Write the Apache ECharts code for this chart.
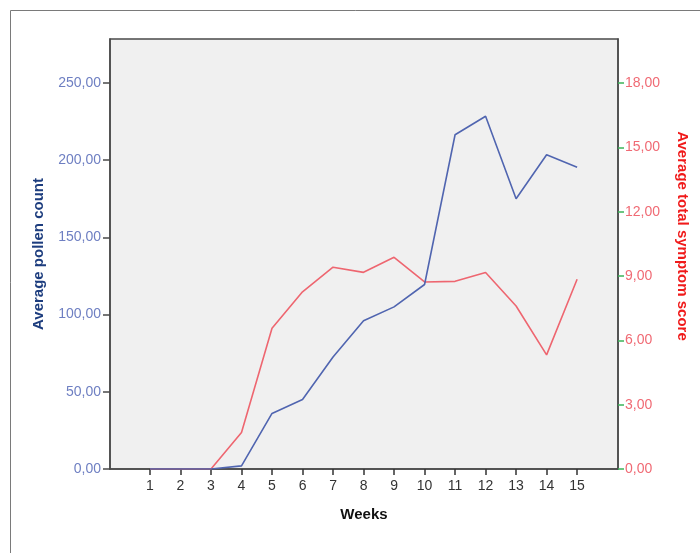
<!DOCTYPE html>
<html>
<head>
<meta charset="utf-8">
<script src="https://cdn.jsdelivr.net/npm/echarts@6/dist/echarts.min.js"></script>
<style>
  html, body { margin: 0; padding: 0; background: #ffffff; }
  #chart { width: 700px; height: 553px; }
</style>
</head>
<body>
<div id="chart"></div>
<script>
// Weekly averages over the pollen season
const weeks = [1, 2, 3, 4, 5, 6, 7, 8, 9, 10, 11, 12, 13, 14, 15];
const pollenCount = [0, 0, 0, 2, 36, 45, 72.5, 96, 105, 119.5, 216.5, 228.5, 175, 203.5, 195.5];
const symptomScore = [0, 0, 0, 1.7, 6.56, 8.26, 9.41, 9.17, 9.87, 8.72, 8.75, 9.16, 7.6, 5.32, 8.85];

// Tick labels for both value axes
const pollenTicks = [0, 50, 100, 150, 200, 250];
const scoreTicks = [0, 3, 6, 9, 12, 15, 18];

const FONT = '"Liberation Sans", Arial, sans-serif';
const comma2 = v => v.toFixed(2).replace('.', ',');

const chart = echarts.init(document.getElementById('chart'), null, { renderer: 'canvas' });

chart.setOption({
  animation: false,
  backgroundColor: '#ffffff',
  graphic: [{
    type: 'rect',
    shape: { x: 10.5, y: 10.5, width: 720, height: 580 },
    style: { fill: 'none', stroke: '#7a7a7a', lineWidth: 1 },
    silent: true
  }],
  grid: {
    left: 110, top: 39, right: 82, bottom: 84,
    show: true, backgroundColor: '#f0f0f0', borderColor: '#4a4a4a', borderWidth: 1.5
  },
  xAxis: {
    type: 'value',
    min: -0.31, max: 16.34,
    name: 'Weeks', nameLocation: 'middle', nameGap: 38,
    nameTextStyle: { fontFamily: FONT, fontSize: 15, fontWeight: 'bold', color: '#111' },
    axisLine: { show: true, onZero: false, lineStyle: { color: '#4a4a4a', width: 1.5 } },
    axisTick: { show: true, inside: false, length: 6, customValues: weeks, lineStyle: { color: '#333', width: 1.5 } },
    axisLabel: { customValues: weeks, margin: 10, fontFamily: FONT, fontSize: 14, color: '#333' },
    splitLine: { show: false }
  },
  yAxis: [{
    type: 'value', position: 'left',
    min: 0, max: 278.5,
    name: 'Average pollen count', nameLocation: 'middle', nameGap: 64, nameRotate: 90,
    nameTextStyle: { fontFamily: FONT, fontSize: 15, fontWeight: 'bold', color: '#1d3d7e' },
    axisLine: { show: true, onZero: false, lineStyle: { color: '#4a4a4a', width: 1.5 } },
    axisTick: { show: true, length: 7, customValues: pollenTicks, lineStyle: { color: '#4a4a4a', width: 1.5 } },
    axisLabel: { customValues: pollenTicks, margin: 9, formatter: comma2, fontFamily: FONT, fontSize: 14, color: '#6e7fc2' },
    splitLine: { show: false }
  }, {
    type: 'value', position: 'right',
    min: 0, max: 20.05,
    name: 'Average total symptom score', nameLocation: 'middle', nameGap: 57, nameRotate: -90,
    nameTextStyle: { fontFamily: FONT, fontSize: 15, fontWeight: 'bold', color: '#f01a1a', padding: [0, 36, 0, 0] },
    axisLine: { show: true, onZero: false, lineStyle: { color: '#4a4a4a', width: 1.5 } },
    axisTick: { show: true, length: 6, customValues: scoreTicks, lineStyle: { color: '#3cb45a', width: 1.5 } },
    axisLabel: { customValues: scoreTicks, margin: 7, formatter: comma2, fontFamily: FONT, fontSize: 14, color: '#f06a74' },
    splitLine: { show: false }
  }],
  series: [{
    name: 'Average pollen count',
    type: 'line', yAxisIndex: 0,
    data: weeks.map((w, i) => [w, pollenCount[i]]),
    showSymbol: false, lineStyle: { color: '#5065b0', width: 1.6 }, z: 3
  }, {
    name: 'Average total symptom score',
    type: 'line', yAxisIndex: 1,
    data: weeks.map((w, i) => [w, symptomScore[i]]),
    showSymbol: false, lineStyle: { color: '#ee6670', width: 1.6 }, z: 2
  }]
});
</script>
</body>
</html>
